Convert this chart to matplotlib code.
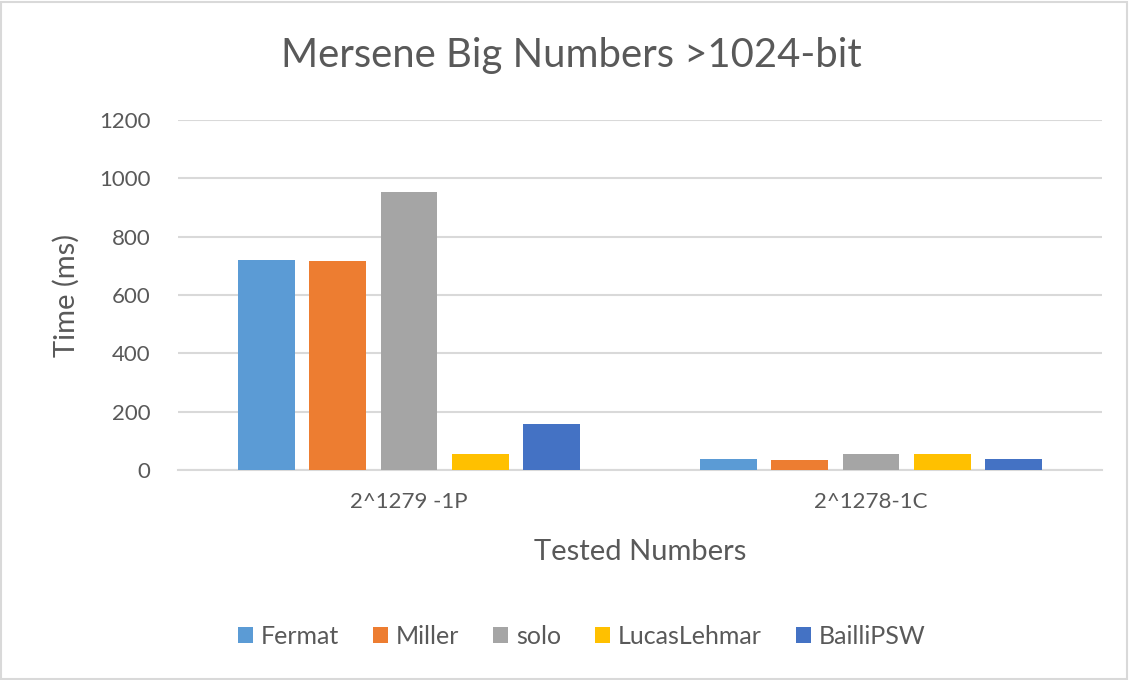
import matplotlib.pyplot as plt
import numpy as np
from matplotlib.patches import Rectangle

plt.rcParams['font.family'] = ['Lato', 'DejaVu Sans']

categories = ["2^1279 -1P", "2^1278-1C"]
series = ["Fermat", "Miller", "solo", "LucasLehmar", "BailliPSW"]
fermat = [720, 39]
miller = [715, 33]
solo = [952, 54]
lucas = [54, 54]
bailli = [157, 39]
values = [fermat, miller, solo, lucas, bailli]
colors = ['#5B9BD5', '#ED7D31', '#A5A5A5', '#FFC000', '#4472C4']
yticks = [0, 200, 400, 600, 800, 1000, 1200]

txt = '#595959'
grid = '#D9D9D9'

fig = plt.figure(figsize=(11.32, 6.8), dpi=100)
ax = fig.add_axes([178/1132, 210/680, 924/1132, 350/680])

x = np.arange(len(categories))
step = 0.154
width = 0.123
for i, (name, vals) in enumerate(zip(series, values)):
    ax.bar(x + (i - 2) * step, vals, width=width, color=colors[i], label=name, zorder=3)

ax.set_xlim(-0.5, 1.5)
ax.set_ylim(0, 1200)
ax.set_yticks(yticks)
ax.set_xticks(x)
ax.set_xticklabels(categories)
ax.yaxis.grid(True, color=grid, linewidth=1.5, zorder=0)
for s in ['top', 'right', 'left']:
    ax.spines[s].set_visible(False)
ax.spines['bottom'].set_color(grid)
ax.spines['bottom'].set_linewidth(1.5)
ax.tick_params(axis='both', length=0, colors=txt, labelsize=16)
ax.tick_params(axis='y', pad=20)
ax.tick_params(axis='x', pad=16)

ax.set_ylabel("Time (ms)", color=txt, fontsize=21, labelpad=14)
ax.set_xlabel("Tested Numbers", color=txt, fontsize=21, labelpad=19)
fig.text(0.505, 1 - 67/680, "Mersene Big Numbers >1024-bit", color=txt, fontsize=28.8,
         ha='center', va='baseline')

leg = fig.legend(loc='center', bbox_to_anchor=(0.514, 1 - 636/680), ncol=5, frameon=False,
                 fontsize=18, handlelength=0.6, handleheight=0.6, handletextpad=0.32,
                 columnspacing=1.35, borderpad=0)
for t in leg.get_texts():
    t.set_color(txt)

fig.patches.append(Rectangle((0.001, 0.001), 0.995, 0.996, transform=fig.transFigure,
                             fill=False, edgecolor=grid, linewidth=1.5))

fig.savefig("out.png", dpi=100)
